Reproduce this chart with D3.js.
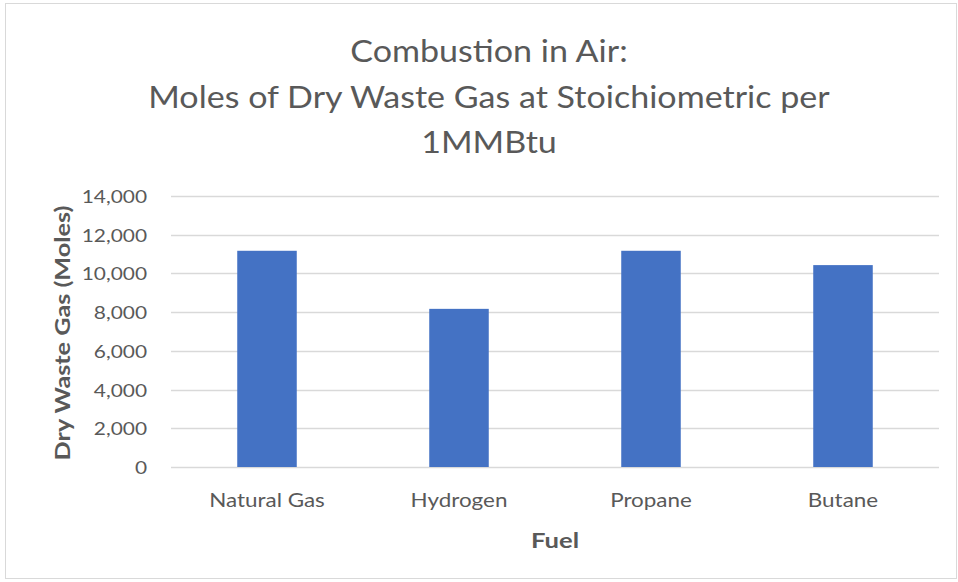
<!DOCTYPE html>
<html>
<head>
<script src="https://d3js.org/d3.v7.min.js"></script>
<style>
  body { margin: 0; background: #fff; }
  svg { display: block; }
</style>
</head>
<body>
<svg id="chart" width="958" height="582"></svg>
<script>
  // data
  const fuels = ["Natural Gas", "Hydrogen", "Propane", "Butane"];
  const wasteGas = [11170, 8170, 11170, 10430];
  const yTicks = [0, 2000, 4000, 6000, 8000, 10000, 12000, 14000];
  const titleLines = ["Combustion in Air:", "Moles of Dry Waste Gas at Stoichiometric per", "1MMBtu"];

  const svg = d3.select("#chart");
  const font = "Lato, 'Open Sans', sans-serif";

  // widen text a little (reference font is a wide rendering of Calibri)
  function stretch(sel, k) {
    sel.each(function() {
      const w = this.getComputedTextLength();
      d3.select(this).attr("textLength", w * k).attr("lengthAdjust", "spacingAndGlyphs");
    });
  }

  // chart frame
  svg.append("rect")
    .attr("x", 5.5).attr("y", 3.5)
    .attr("width", 951).attr("height", 575)
    .attr("fill", "#fff")
    .attr("stroke", "#d9d9d9");

  const margin = {left: 171, right: 19, top: 196, bottom: 115};
  const width = 958 - margin.left - margin.right;
  const height = 582 - margin.top - margin.bottom;
  const g = svg.append("g").attr("transform", `translate(${margin.left},${margin.top})`);

  const x = d3.scaleBand().domain(fuels).range([0, width]).paddingInner(0.69).paddingOuter(0.345);
  const y = d3.scaleLinear().domain([0, 14000]).range([height, 0]);

  // gridlines
  g.selectAll(".grid").data(yTicks).join("line")
    .attr("x1", 0).attr("x2", width)
    .attr("y1", d => Math.round(y(d)) + 0.5).attr("y2", d => Math.round(y(d)) + 0.5)
    .attr("stroke", "#d9d9d9").attr("stroke-width", 1.3);

  // y axis labels
  const yAxis = g.append("g")
    .attr("transform", "translate(-24,0)")
    .call(d3.axisLeft(y).tickValues(yTicks).tickSize(0).tickFormat(d3.format(",")));
  yAxis.select(".domain").remove();
  yAxis.selectAll("text")
    .attr("x", 0).attr("dy", "0.36em")
    .style("font-family", font).style("font-size", "18px").attr("fill", "#595959")
    .call(stretch, 1.16);

  // bars
  g.selectAll(".bar").data(fuels).join("rect")
    .attr("x", d => x(d))
    .attr("y", (d, i) => y(wasteGas[i]))
    .attr("width", x.bandwidth())
    .attr("height", (d, i) => height - y(wasteGas[i]))
    .attr("fill", "#4472c4");

  // x axis labels
  const xAxis = g.append("g")
    .attr("transform", `translate(0,${height})`)
    .call(d3.axisBottom(x).tickSize(0));
  xAxis.select(".domain").remove();
  xAxis.selectAll("text")
    .attr("y", 40).attr("dy", 0)
    .style("font-family", font).style("font-size", "19px").attr("fill", "#595959")
    .call(stretch, 1.18);

  // axis titles
  svg.append("text")
    .attr("x", margin.left + width / 2).attr("y", 548)
    .attr("text-anchor", "middle")
    .style("font-family", font).style("font-size", "21px").style("font-weight", "bold")
    .attr("fill", "#595959")
    .text("Fuel")
    .call(stretch, 1.22);

  svg.append("text")
    .attr("transform", "translate(70,333) rotate(-90)")
    .attr("text-anchor", "middle")
    .style("font-family", font).style("font-size", "21px").style("font-weight", "bold")
    .attr("fill", "#595959")
    .text("Dry Waste Gas (Moles)")
    .call(stretch, 1.2);

  // chart title
  svg.append("g").selectAll("text").data(titleLines).join("text")
    .attr("x", 489).attr("y", (d, i) => 62 + i * 45.5)
    .attr("text-anchor", "middle")
    .style("font-family", font).style("font-size", "30px")
    .attr("fill", "#595959")
    .text(d => d)
    .call(stretch, 1.135);
</script>
</body>
</html>
